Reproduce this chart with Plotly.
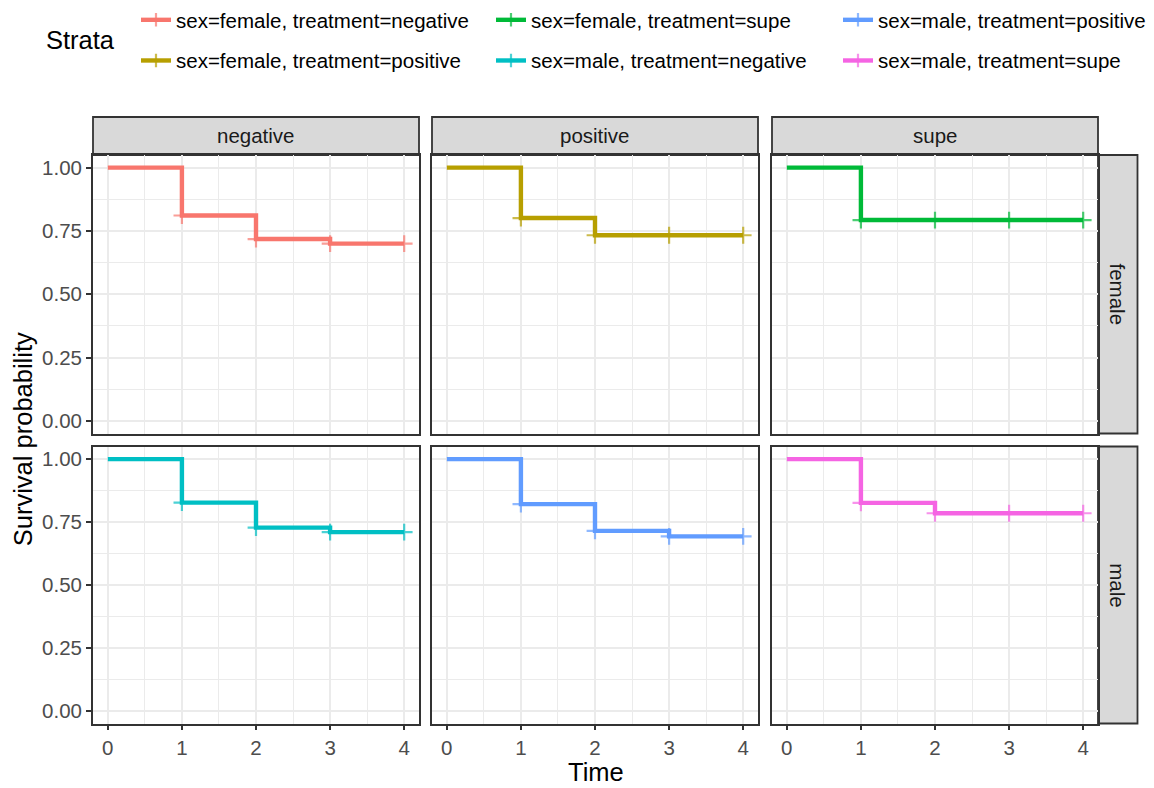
import plotly.graph_objects as go

# Kaplan-Meier step estimates per stratum (time points 0..4)
times = [0, 1, 2, 3, 4]
censored = [False, True, True, True, True]

surv_female_negative = [1.000, 0.811, 0.718, 0.700, 0.700]
surv_female_positive = [1.000, 0.801, 0.733, 0.733, 0.733]
surv_female_supe = [1.000, 0.793, 0.793, 0.793, 0.793]
surv_male_negative = [1.000, 0.827, 0.728, 0.710, 0.710]
surv_male_positive = [1.000, 0.821, 0.715, 0.693, 0.693]
surv_male_supe = [1.000, 0.826, 0.785, 0.785, 0.785]

treatments = ["negative", "positive", "supe"]
sexes = ["female", "male"]
y_ticks = [0.0, 0.25, 0.50, 0.75, 1.00]
x_ticks = [0, 1, 2, 3, 4]

strata = [
    ("female", "negative", surv_female_negative, "#F8766D"),
    ("female", "positive", surv_female_positive, "#B79F00"),
    ("female", "supe", surv_female_supe, "#00BA38"),
    ("male", "negative", surv_male_negative, "#00BFC4"),
    ("male", "positive", surv_male_positive, "#619CFF"),
    ("male", "supe", surv_male_supe, "#F564E3"),
]

W, H = 1154, 788
FONT = "Liberation Sans, Arial, Helvetica, sans-serif"
SMALL = 20.5   # tick labels, strip labels, legend entries
LARGE = 25.5   # axis titles and legend title

# panel geometry in pixels
col_x = [(93, 419), (432, 758), (772, 1098)]
row_y = [(155, 433.5), (446.5, 723.5)]
strip_top = (117, 155)
strip_right = (1098, 1137.5)


def px_x(v):
    return v / W


def px_y(v):
    return 1 - v / H


# three legends laid out as columns, two entries each
legend_of = {
    ("female", "negative"): "legend",
    ("female", "positive"): "legend",
    ("female", "supe"): "legend2",
    ("male", "negative"): "legend2",
    ("male", "positive"): "legend3",
    ("male", "supe"): "legend3",
}

fig = go.Figure()
for sex, trt, surv, color in strata:
    r = sexes.index(sex)
    c = treatments.index(trt)
    idx = r * 3 + c + 1
    suffix = "" if idx == 1 else str(idx)
    fig.add_trace(go.Scatter(
        x=times, y=surv,
        mode="lines+markers",
        line=dict(color=color, width=4.4, shape="hv"),
        marker=dict(symbol="cross-thin", size=[12 if cz else 0 for cz in censored],
                    color=color, line=dict(color=color, width=2.2)),
        name=f"sex={sex}, treatment={trt}",
        legendgroup=f"{sex}-{trt}",
        legend=legend_of[(sex, trt)],
        xaxis="x" + suffix, yaxis="y" + suffix,
        hoverinfo="skip",
    ))

layout = dict(
    width=W, height=H,
    margin=dict(l=0, r=0, t=0, b=0),
    paper_bgcolor="white", plot_bgcolor="white",
    font=dict(family=FONT, color="#000000"),
    showlegend=True,
)

grid_major = "#EBEBEB"
border = "#333333"
for r in range(2):
    for c in range(3):
        idx = r * 3 + c + 1
        suffix = "" if idx == 1 else str(idx)
        bottom = r == 1
        left = c == 0
        layout["xaxis" + suffix] = dict(
            domain=[px_x(col_x[c][0]), px_x(col_x[c][1])],
            anchor="y" + suffix, range=[-0.2, 4.2],
            tickvals=x_ticks, showticklabels=bottom,
            ticks="outside" if bottom else "", ticklen=5, tickwidth=1.5, tickcolor=border,
            tickfont=dict(size=SMALL, color="#4D4D4D", family=FONT),
            showgrid=True, gridcolor=grid_major, gridwidth=2,
            minor=dict(dtick=0.5, tick0=0, showgrid=True, gridcolor=grid_major, gridwidth=1),
            showline=True, mirror=True, linecolor=border, linewidth=1.8,
            zeroline=False, fixedrange=True,
        )
        layout["yaxis" + suffix] = dict(
            domain=[px_y(row_y[r][1]), px_y(row_y[r][0])],
            anchor="x" + suffix, range=[-0.05, 1.05],
            tickvals=y_ticks, tickformat=".2f", showticklabels=left,
            ticks="outside" if left else "", ticklen=5, tickwidth=1.5, tickcolor=border,
            tickfont=dict(size=SMALL, color="#4D4D4D", family=FONT),
            showgrid=True, gridcolor=grid_major, gridwidth=2,
            minor=dict(dtick=0.125, tick0=0, showgrid=True, gridcolor=grid_major, gridwidth=1),
            showline=True, mirror=True, linecolor=border, linewidth=1.8,
            zeroline=False, fixedrange=True,
        )

shapes = []
annotations = []
# facet strips across the top
for c, trt in enumerate(treatments):
    x0, x1 = col_x[c]
    shapes.append(dict(type="rect", xref="paper", yref="paper",
                       x0=px_x(x0), x1=px_x(x1), y0=px_y(strip_top[1]), y1=px_y(strip_top[0]),
                       fillcolor="#D9D9D9", line=dict(color=border, width=1.8), layer="below"))
    annotations.append(dict(text=trt, xref="paper", yref="paper",
                            x=px_x((x0 + x1) / 2), y=px_y(sum(strip_top) / 2),
                            showarrow=False, xanchor="center", yanchor="middle",
                            font=dict(size=SMALL, color="#1A1A1A", family=FONT)))
# facet strips down the right side
for r, sex in enumerate(sexes):
    y0, y1 = row_y[r]
    shapes.append(dict(type="rect", xref="paper", yref="paper",
                       x0=px_x(strip_right[0]), x1=px_x(strip_right[1]), y0=px_y(y1), y1=px_y(y0),
                       fillcolor="#D9D9D9", line=dict(color=border, width=1.8), layer="below"))
    annotations.append(dict(text=sex, xref="paper", yref="paper", textangle=90,
                            x=px_x(sum(strip_right) / 2), y=px_y((y0 + y1) / 2),
                            showarrow=False, xanchor="center", yanchor="middle",
                            font=dict(size=SMALL, color="#1A1A1A", family=FONT)))

# axis titles
annotations.append(dict(text="Time", xref="paper", yref="paper",
                        x=px_x((col_x[0][0] + col_x[2][1]) / 2), y=px_y(772),
                        showarrow=False, xanchor="center", yanchor="middle",
                        font=dict(size=LARGE, color="#000000", family=FONT)))
annotations.append(dict(text="Survival probability", xref="paper", yref="paper", textangle=-90,
                        x=px_x(23), y=px_y((row_y[0][0] + row_y[1][1]) / 2),
                        showarrow=False, xanchor="center", yanchor="middle",
                        font=dict(size=LARGE, color="#000000", family=FONT)))
# legend title
annotations.append(dict(text="Strata", xref="paper", yref="paper",
                        x=px_x(44), y=px_y(40),
                        showarrow=False, xanchor="left", yanchor="middle",
                        font=dict(size=LARGE, color="#000000", family=FONT)))

layout["shapes"] = shapes
layout["annotations"] = annotations

legend_common = dict(
    orientation="v", yanchor="top", xanchor="left", y=px_y(0),
    traceorder="grouped", tracegroupgap=11,
    font=dict(size=SMALL, color="#000000", family=FONT),
    bgcolor="rgba(0,0,0,0)", borderwidth=0, itemclick=False, itemdoubleclick=False,
)
layout["legend"] = dict(legend_common, x=px_x(136))
layout["legend2"] = dict(legend_common, x=px_x(491))
layout["legend3"] = dict(legend_common, x=px_x(838))

fig.update_layout(**layout)
fig.write_html("out.html")
